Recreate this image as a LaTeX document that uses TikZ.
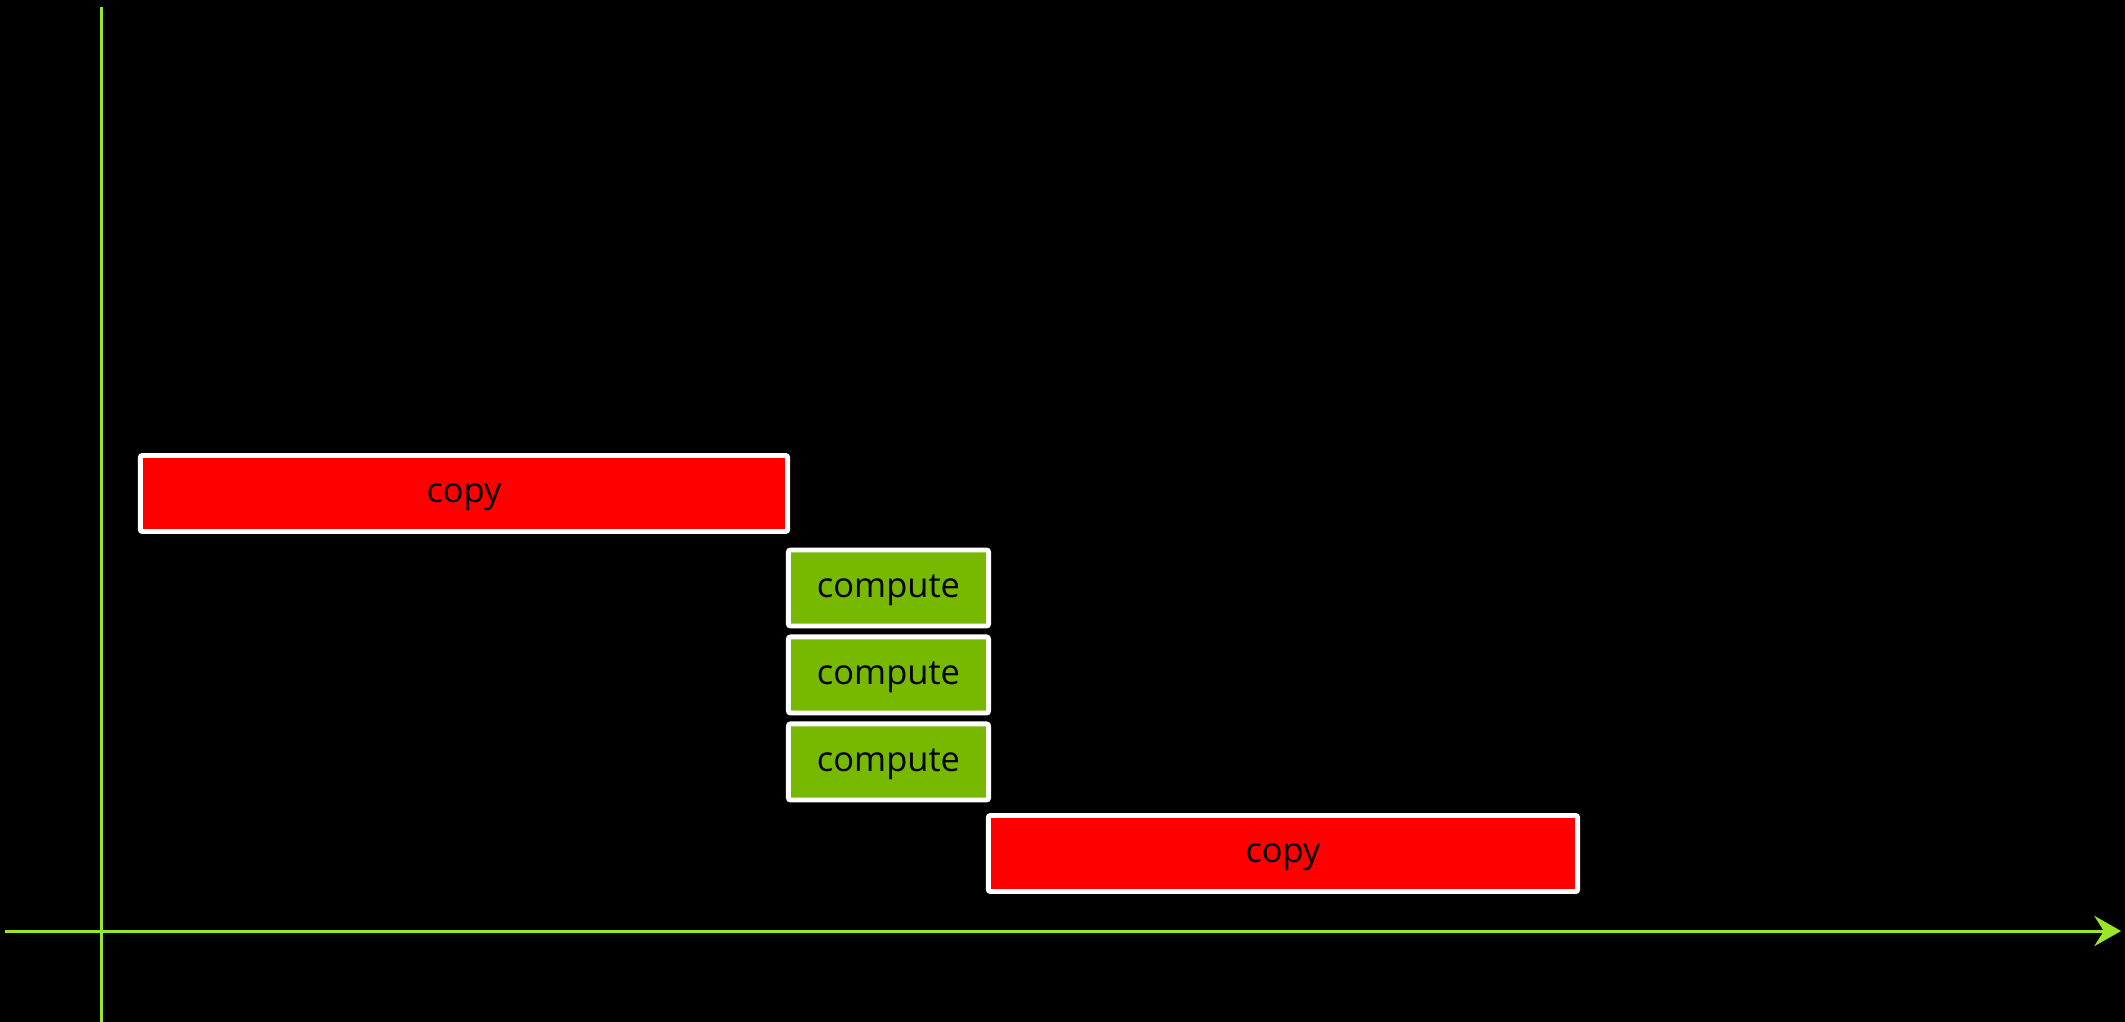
\documentclass[tikz,border=0pt]{standalone}
\usepackage{fontspec}
\setmainfont{Open Sans}
\usepackage{tikz}
\usetikzlibrary{arrows.meta,positioning}
\definecolor{copyred}{RGB}{255,0,0}
\definecolor{computegreen}{RGB}{118,185,0}
\definecolor{axisgreen}{RGB}{154,230,40}

\begin{document}
\begin{tikzpicture}[
  x=0.01cm, y=-0.01cm,
  box/.style={draw=white, line width=1.4pt, rounded corners=0.6pt, inner sep=0pt,
    minimum height=0.76cm, text height=1ex, text depth=0pt,
    font=\fontsize{9.8pt}{11pt}\selectfont, text=black},
  copybox/.style={box, fill=copyred},
  computebox/.style={box, fill=computegreen, minimum width=2cm},
  axis/.style={draw=axisgreen, line width=0.85pt}
]
  \fill[black] (0,0) rectangle (2125,1022);
  \useasboundingbox (0,0) rectangle (2125,1022);

  % axes
  \coordinate (ytop) at (101.5,7);
  \coordinate (ybot) at (101.5,1022);
  \coordinate (xleft) at (5,931);
  \coordinate (xright) at (2121,931);
  \draw[axis] (ybot) -- (ytop);
  \draw[axis, -{Stealth[length=7.6pt, width=8.6pt, inset=2.7pt]}] (xleft) -- (xright);

  % timeline
  \node[copybox, minimum width=6.47cm] (copyin) at (464,493.5) {copy};
  \node[computebox] (comp1) at (888.5,588) {compute};
  \node[computebox, below=0.06cm of comp1] (comp2) {compute};
  \node[computebox, below=0.06cm of comp2] (comp3) {compute};
  \node[copybox, minimum width=5.89cm] (copyout) at (1283,853.5) {copy};
\end{tikzpicture}
\end{document}
